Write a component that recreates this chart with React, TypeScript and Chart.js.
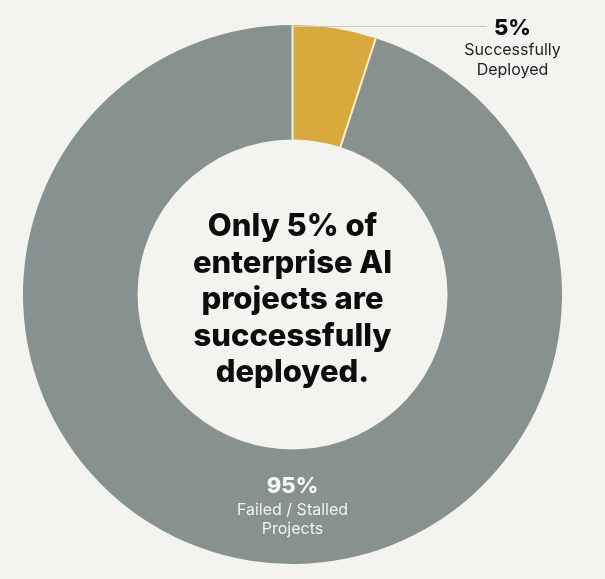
import { useEffect, useRef } from "react";
import { Chart, registerables } from "chart.js";

Chart.register(...registerables);

const categories = ["Successfully Deployed", "Failed / Stalled Projects"];
const values = [5, 95];
const percentLabels = ["5%", "95%"];
const subLabels = [["Successfully", "Deployed"], ["Failed / Stalled", "Projects"]];
const centerLines = ["Only 5% of", "enterprise AI", "projects are", "successfully", "deployed."];
const colors = ["#d8aa3e", "#879290"];

const labelPlugin = {
  id: "customLabels",
  afterDatasetsDraw(chart: any) {
    const ctx = chart.ctx;
    const meta = chart.getDatasetMeta(0);
    const arcs = meta.data;
    if (!arcs.length) return;
    const a0 = arcs[0];
    const cx = a0.x;
    const cy = a0.y;
    const outer = a0.outerRadius;
    const inner = a0.innerRadius;
    ctx.save();

    // separators between segments
    ctx.strokeStyle = "#f7efd6";
    ctx.lineWidth = 2;
    arcs.forEach((a: any) => {
      const ang = a.startAngle;
      ctx.beginPath();
      ctx.moveTo(cx + inner * Math.cos(ang), cy + inner * Math.sin(ang));
      ctx.lineTo(cx + outer * Math.cos(ang), cy + outer * Math.sin(ang));
      ctx.stroke();
    });

    // leader line from top of the small segment
    const sx = cx + outer * Math.cos(a0.startAngle);
    const sy = cy + outer * Math.sin(a0.startAngle) + 1.5;
    ctx.strokeStyle = "#c9c9c6";
    ctx.lineWidth = 1;
    ctx.beginPath();
    ctx.moveTo(sx, sy);
    ctx.lineTo(cx + 194, sy);
    ctx.stroke();

    ctx.textAlign = "center";
    ctx.textBaseline = "middle";
    // small segment label
    const lx = cx + 220;
    ctx.fillStyle = "#111111";
    ctx.font = "800 22px Inter";
    ctx.fillText(percentLabels[0], lx, sy + 2);
    ctx.fillStyle = "#222222";
    ctx.font = "16px Inter";
    ctx.fillText(subLabels[0][0], lx, sy + 24);
    ctx.fillText(subLabels[0][1], lx, sy + 44);

    // large segment label at bottom of ring
    const mid = (outer + inner) / 2;
    const by = cy + mid;
    ctx.fillStyle = "#f7f7f5";
    ctx.font = "800 22px Inter";
    ctx.fillText(percentLabels[1], cx, by - 20);
    ctx.fillStyle = "#f2f2f0";
    ctx.font = "16px Inter";
    ctx.fillText(subLabels[1][0], cx, by + 3);
    ctx.fillText(subLabels[1][1], cx, by + 22);

    // center text
    ctx.fillStyle = "#0d0d0d";
    ctx.font = "800 31px Inter";
    const lh = 36.5;
    const start = cy + 5.5 - lh * 2;
    centerLines.forEach((t, i) => {
      ctx.fillText(t, cx, start + i * lh);
    });
    ctx.restore();
  },
};

export default function App() {
  const ref = useRef<HTMLCanvasElement | null>(null);
  useEffect(() => {
    document.body.style.margin = "0";
    document.body.style.background = "#f3f3ef";
    const chart = new Chart(ref.current!, {
      type: "doughnut",
      data: {
        labels: categories,
        datasets: [
          {
            data: values,
            backgroundColor: colors,
            borderWidth: 0,
          },
        ],
      },
      options: {
        responsive: false,
        animation: false,
        radius: 269.5,
        cutout: "57.5%",
        layout: { padding: { left: 0, right: 20, top: 10, bottom: 0 } },
        plugins: {
          legend: { display: false },
          tooltip: { enabled: false },
        },
      },
      plugins: [labelPlugin],
    });
    return () => chart.destroy();
  }, []);
  return (
    <div style={{ width: 605, height: 579, background: "#f3f3ef" }}>
      <canvas ref={ref} width={605} height={579} style={{ display: "block" }} />
    </div>
  );
}
